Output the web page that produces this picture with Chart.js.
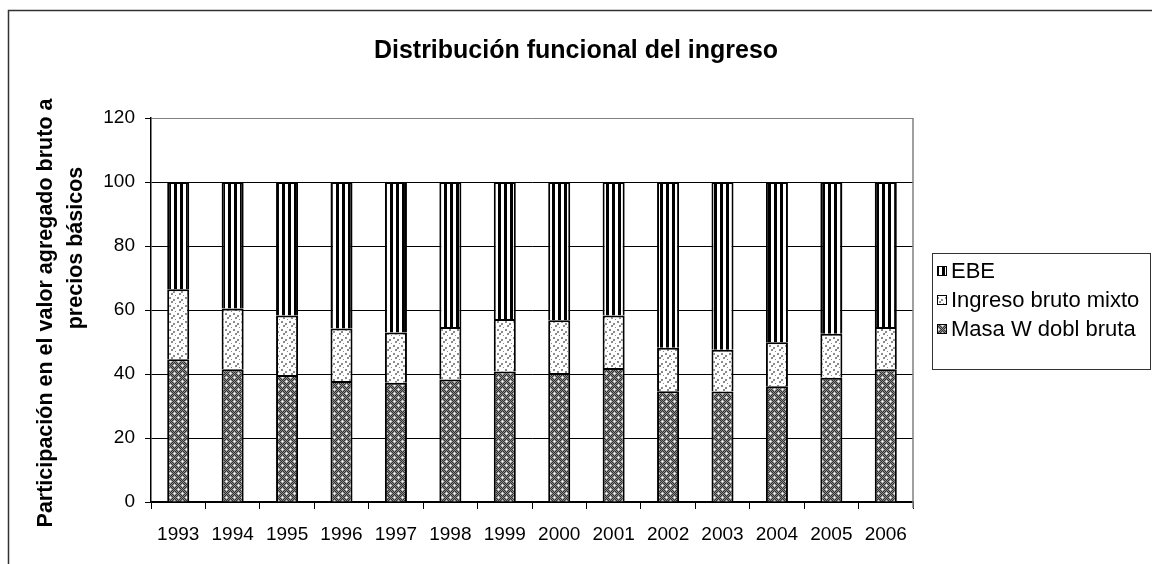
<!DOCTYPE html>
<html>
<head>
<meta charset="utf-8">
<title>Distribución funcional del ingreso</title>
<script src="https://cdn.jsdelivr.net/npm/chart.js"></script>
<style>
    body { margin: 0; background: #fff; }
    .chart-container { position: relative; width: 1152px; height: 564px; }
</style>
</head>
<body>
<div class="chart-container">
    <canvas id="ingresoChart"></canvas>
</div>
<script>
    // datos
    const years = ['1993', '1994', '1995', '1996', '1997', '1998', '1999', '2000', '2001', '2002', '2003', '2004', '2005', '2006'];
    const masaW = [44.6, 41.5, 39.7, 37.8, 37.3, 38.3, 40.8, 40.3, 41.9, 34.6, 34.5, 36.2, 38.8, 41.5];
    const ingresoMixto = [21.9, 19.0, 18.6, 16.4, 15.7, 16.4, 16.4, 16.5, 16.4, 13.6, 13.1, 13.7, 13.8, 13.2];
    const ebe = [33.5, 39.5, 41.7, 45.8, 47.0, 45.3, 42.8, 43.2, 41.7, 51.8, 52.4, 50.1, 47.4, 45.3];
    const yTicks = [0, 20, 40, 60, 80, 100, 120];

    const FONT = '"Liberation Sans", Arial, sans-serif';

    // tramas tipo Excel
    function makePattern(w, h, draw) {
        const c = document.createElement('canvas');
        c.width = w; c.height = h;
        const g = c.getContext('2d');
        draw(g);
        return g.createPattern(c, 'repeat');
    }
    const stripes = makePattern(6, 6, g => {
        g.fillStyle = '#fff'; g.fillRect(0, 0, 6, 6);
        g.fillStyle = '#000'; g.fillRect(0, 0, 3, 6);
    });
    const dots = makePattern(8, 8, g => {
        g.fillStyle = '#fff'; g.fillRect(0, 0, 8, 8);
        g.fillStyle = '#8a8a8a';
        g.fillRect(1, 1, 2, 2); g.fillRect(5, 3, 2, 2);
        g.fillRect(3, 5, 2, 2); g.fillRect(7, 7, 1, 1);
    });
    const checker = makePattern(8, 8, g => {
        for (let x = 0; x < 8; x++) {
            for (let y = 0; y < 8; y++) {
                g.fillStyle = (x + y) % 2 ? '#8c8c8c' : '#303030';
                g.fillRect(x, y, 1, 1);
            }
        }
        g.fillStyle = '#fff';
        g.fillRect(2, 1, 1, 1); g.fillRect(6, 5, 1, 1);
        g.fillStyle = '#d0d0d0';
        g.fillRect(1, 1, 1, 1); g.fillRect(3, 1, 1, 1); g.fillRect(2, 0, 1, 1); g.fillRect(2, 2, 1, 1);
        g.fillRect(5, 5, 1, 1); g.fillRect(7, 5, 1, 1); g.fillRect(6, 4, 1, 1); g.fillRect(6, 6, 1, 1);
    });

    const marcoPlugin = {
        id: 'marco',
        beforeDraw(chart) {
            const ctx = chart.ctx;
            ctx.save();
            ctx.fillStyle = '#fff';
            ctx.fillRect(0, 0, chart.width, chart.height);
            ctx.strokeStyle = '#333';
            ctx.lineWidth = 1.5;
            ctx.strokeRect(8.5, 10.5, 1400, 800);
            ctx.restore();
        },
        beforeDatasetsDraw(chart) {
            const a = chart.chartArea, ctx = chart.ctx;
            ctx.save();
            ctx.strokeStyle = '#808080';
            ctx.lineWidth = 1.5;
            ctx.beginPath();
            ctx.moveTo(a.right, a.top);
            ctx.lineTo(a.right, a.bottom + 6);
            ctx.stroke();
            ctx.restore();
        },
        afterDraw(chart) {
            const ctx = chart.ctx;
            ctx.save();
            ctx.fillStyle = '#000';
            // titulo
            ctx.font = 'bold 25px ' + FONT;
            ctx.textAlign = 'center';
            ctx.textBaseline = 'middle';
            ctx.fillText('Distribución funcional del ingreso', 576, 51);
            // titulo eje y
            ctx.font = 'bold 21.5px ' + FONT;
            ctx.save();
            ctx.translate(46, 313);
            ctx.rotate(-Math.PI / 2);
            ctx.fillText('Participación en el valor agregado bruto a', 0, 0);
            ctx.restore();
            ctx.save();
            ctx.translate(76, 248);
            ctx.rotate(-Math.PI / 2);
            ctx.fillText('precios básicos', 0, 0);
            ctx.restore();
            // leyenda
            ctx.strokeStyle = '#333';
            ctx.lineWidth = 1;
            ctx.strokeRect(932.5, 253.5, 218, 116);
            ctx.font = '22px ' + FONT;
            ctx.textAlign = 'left';
            const items = chart.data.datasets.slice().reverse();
            items.forEach((ds, i) => {
                const y = 271 + i * 29;
                ctx.fillStyle = ds.backgroundColor;
                ctx.fillRect(937, y - 5, 10, 10);
                ctx.strokeStyle = '#000';
                ctx.strokeRect(937.5, y - 4.5, 9, 9);
                ctx.fillStyle = '#000';
                ctx.fillText(ds.label, 951, y + 1);
            });
            ctx.restore();
        }
    };

    const ctx = document.getElementById('ingresoChart').getContext('2d');
    new Chart(ctx, {
        type: 'bar',
        data: {
            labels: years,
            datasets: [{
                label: 'Masa W dobl bruta',
                data: masaW,
                backgroundColor: checker
            }, {
                label: 'Ingreso bruto mixto',
                data: ingresoMixto,
                backgroundColor: dots
            }, {
                label: 'EBE',
                data: ebe,
                backgroundColor: stripes
            }]
        },
        options: {
            responsive: true,
            maintainAspectRatio: false,
            animation: false,
            datasets: {
                bar: {
                    barPercentage: 0.405,
                    categoryPercentage: 1,
                    borderColor: '#000',
                    borderWidth: 2
                }
            },
            layout: { padding: { left: 0, top: 118, right: 239, bottom: 0 } },
            plugins: {
                legend: { display: false },
                title: { display: false },
                tooltip: { enabled: false }
            },
            scales: {
                x: {
                    stacked: true,
                    afterFit: s => { s.height = 62; },
                    grid: {
                        offset: true,
                        drawOnChartArea: false,
                        color: '#000',
                        tickLength: 7
                    },
                    border: { color: '#000', width: 1.5 },
                    ticks: {
                        color: '#000',
                        font: { family: FONT, size: 19 },
                        padding: 14,
                        maxRotation: 0,
                        autoSkip: false
                    }
                },
                y: {
                    stacked: true,
                    min: 0,
                    max: 120,
                    afterFit: s => { s.width = 151; },
                    afterBuildTicks: s => { s.ticks = yTicks.map(v => ({ value: v })); },
                    grid: {
                        color: c => (c.tick && c.tick.value === 120) ? '#808080' : '#000',
                        tickColor: '#000',
                        tickLength: 6,
                        lineWidth: 1
                    },
                    border: { color: '#000', width: 1.5 },
                    ticks: {
                        color: '#000',
                        font: { family: FONT, size: 19 },
                        padding: 10
                    }
                }
            }
        },
        plugins: [marcoPlugin]
    });
</script>
</body>
</html>
